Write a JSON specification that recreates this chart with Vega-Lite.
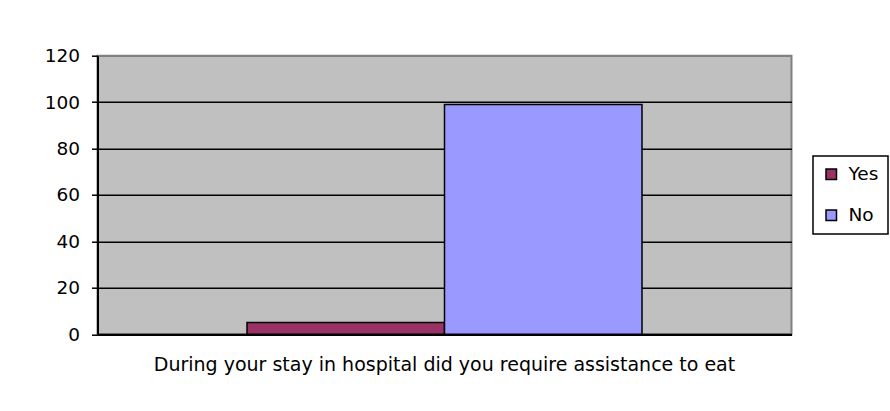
{
  "$schema": "https://vega.github.io/schema/vega-lite/v6.json",
  "autosize": {"type": "none"},
  "width": 694,
  "height": 278.5,
  "padding": {"left": 97.5, "top": 55.7, "right": 98.5, "bottom": 76.8},
  "background": "white",
  "data": {
    "values": [
      {"question": "During your stay in hospital did you require assistance to eat", "answer": "Yes", "value": 5},
      {"question": "During your stay in hospital did you require assistance to eat", "answer": "No", "value": 99}
    ]
  },
  "mark": {"type": "bar", "stroke": "black", "strokeWidth": 1.5},
  "encoding": {
    "x": {
      "field": "question",
      "type": "nominal",
      "scale": {"paddingInner": 0, "paddingOuter": 0.3785},
      "axis": {
        "title": null,
        "labelAngle": 0,
        "labelLimit": 0,
        "labelFont": "DejaVu Sans",
        "labelFontSize": 19,
        "labelColor": "black",
        "labelPadding": 21,
        "ticks": false,
        "domainColor": "black",
        "domainWidth": 2
      }
    },
    "xOffset": {"field": "answer", "type": "nominal", "sort": ["Yes", "No"]},
    "y": {
      "field": "value",
      "type": "quantitative",
      "scale": {"domain": [0, 120], "nice": false},
      "axis": {
        "title": null,
        "values": [0, 20, 40, 60, 80, 100, 120],
        "labelFont": "DejaVu Sans",
        "labelFontSize": 18.5,
        "labelColor": "black",
        "labelPadding": 12,
        "tickSize": 6,
        "tickColor": "black",
        "tickWidth": 1.5,
        "domainColor": "black",
        "domainWidth": 2,
        "grid": true,
        "gridColor": {"condition": {"test": "datum.value === 120", "value": "#808080"}, "value": "black"},
        "gridWidth": 1.5
      }
    },
    "color": {
      "field": "answer",
      "type": "nominal",
      "sort": ["Yes", "No"],
      "scale": {"domain": ["Yes", "No"], "range": ["#993366", "#9999FF"]},
      "legend": {
        "title": null,
        "orient": "none",
        "legendX": 715.5,
        "legendY": 100.3,
        "direction": "vertical",
        "symbolType": "square",
        "symbolSize": 110,
        "symbolStrokeColor": "black",
        "symbolStrokeWidth": 1.5,
        "symbolOpacity": 1,
        "labelFont": "DejaVu Sans",
        "labelFontSize": 18.5,
        "labelColor": "black",
        "labelOffset": 8,
        "rowPadding": 22,
        "padding": 9,
        "strokeColor": "black",
        "fillColor": "white"
      }
    }
  },
  "config": {
    "view": {"fill": "#C0C0C0", "stroke": "#808080", "strokeWidth": 2},
    "axis": {"gridOpacity": 1},
    "legend": {"strokeWidth": 1.5}
  }
}
